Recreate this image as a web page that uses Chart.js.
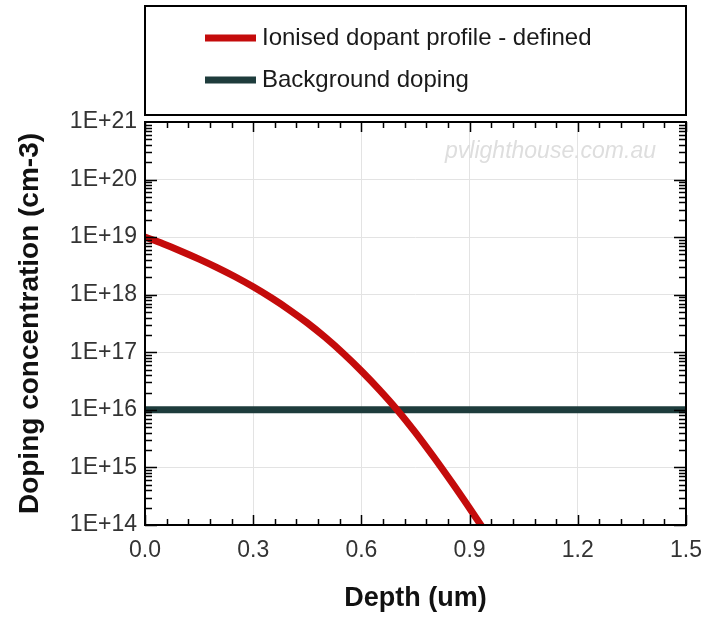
<!DOCTYPE html>
<html>
<head>
<meta charset="utf-8">
<script src="https://cdn.jsdelivr.net/npm/chart.js@4"></script>
<style>
  body { margin: 0; background: #fff; }
</style>
</head>
<body>
<canvas id="myChart" width="720" height="625"></canvas>
<script>
// ====== Doping profile vs depth =========

const depth = [0, 0.05, 0.1, 0.15, 0.2, 0.25, 0.3, 0.35, 0.4, 0.45, 0.5, 0.55, 0.6, 0.65, 0.7, 0.75, 0.8, 0.85, 0.9, 0.95];
const dopant = [1.0e19, 7.67e18, 5.71e18, 4.16e18, 2.96e18, 2.05e18, 1.37e18, 8.83e17, 5.47e17, 3.24e17, 1.81e17, 9.53e16, 4.74e16, 2.23e16, 9.89e15, 4.03e15, 1.53e15, 5.56e14, 1.95e14, 6.68e13];
const bgDepth = [0, 1.5];
const bgDoping = [1e16, 1e16];
const xTicks = [0, 0.3, 0.6, 0.9, 1.2, 1.5];
const yExponents = [14, 15, 16, 17, 18, 19, 20, 21];
const seriesNames = ["Ionised dopant profile - defined", "Background doping"];

const FONT = "'Liberation Sans', Arial, sans-serif";

// inward tick marks + black frame round the plot
const frameTicks = {
  id: "frameTicks",
  afterDatasetsDraw(chart) {
    const ctx = chart.ctx;
    const a = chart.chartArea;
    const x = chart.scales.x;
    const y = chart.scales.y;
    ctx.save();
    ctx.strokeStyle = "#000";
    ctx.lineWidth = 1.5;
    ctx.beginPath();
    for (let i = 0; i <= 25; i++) {
      const px = Math.round(x.getPixelForValue(i * 0.06)) + 0.5;
      const len = i % 5 == 0 ? 10 : 6;
      ctx.moveTo(px, a.bottom);
      ctx.lineTo(px, a.bottom - len);
      ctx.moveTo(px, a.top);
      ctx.lineTo(px, a.top + len);
    }
    for (let e = 14; e <= 20; e++) {
      for (let m = 1; m <= 9; m++) {
        const py = Math.round(y.getPixelForValue(m * Math.pow(10, e))) + 0.5;
        const len = m == 1 ? 12 : 7;
        ctx.moveTo(a.left, py);
        ctx.lineTo(a.left + len, py);
        ctx.moveTo(a.right, py);
        ctx.lineTo(a.right - len, py);
      }
    }
    ctx.stroke();
    ctx.lineWidth = 2;
    ctx.strokeRect(a.left, a.top, a.right - a.left, a.bottom - a.top);

    // watermark
    ctx.font = "italic 23px " + FONT;
    ctx.fillStyle = "#dedede";
    ctx.textAlign = "right";
    ctx.textBaseline = "middle";
    ctx.fillText("pvlighthouse.com.au", a.right - 30, a.top + 30);
    ctx.restore();
  },
};

// legend in its own box above the plot
const boxLegend = {
  id: "boxLegend",
  afterDraw(chart) {
    const ctx = chart.ctx;
    const a = chart.chartArea;
    ctx.save();
    ctx.strokeStyle = "#000";
    ctx.lineWidth = 2;
    ctx.strokeRect(a.left, 6, a.right - a.left, 109);
    ctx.font = "24px " + FONT;
    ctx.textBaseline = "middle";
    ctx.textAlign = "left";
    chart.data.datasets.forEach((ds, i) => {
      const ly = 38 + i * 42;
      ctx.strokeStyle = ds.borderColor;
      ctx.lineWidth = 7;
      ctx.beginPath();
      ctx.moveTo(205, ly);
      ctx.lineTo(256, ly);
      ctx.stroke();
      ctx.fillStyle = "#1a1a1a";
      ctx.fillText(ds.label, 262, ly);
    });
    ctx.restore();
  },
};

let ctx = document.getElementById("myChart").getContext("2d");

var graphie = new Chart(ctx, {
  type: "line",
  data: {
    datasets: [
      {
        label: seriesNames[0],
        data: depth.map((d, i) => ({ x: d, y: dopant[i] })),
        borderColor: "#c40b0b",
        borderWidth: 7,
        pointRadius: 0,
        cubicInterpolationMode: "monotone",
      },
      {
        label: seriesNames[1],
        data: bgDepth.map((d, i) => ({ x: d, y: bgDoping[i] })),
        borderColor: "#1e3c3c",
        borderWidth: 7,
        pointRadius: 0,
      },
    ],
  },
  options: {
    responsive: false,
    animation: false,
    devicePixelRatio: 1,
    layout: { padding: { top: 122, right: 34 } },
    plugins: {
      legend: { display: false },
      tooltip: { enabled: false },
    },
    scales: {
      x: {
        type: "linear",
        min: 0,
        max: 1.5,
        afterBuildTicks: (scale) => {
          scale.ticks = xTicks.map((v) => ({ value: v }));
        },
        afterFit: (scale) => {
          scale.height = 100;
        },
        ticks: {
          padding: 12,
          color: "#333",
          font: { family: FONT, size: 23 },
          callback: (v) => Number(v).toFixed(1),
        },
        grid: { color: "#e3e3e3", lineWidth: 1, drawTicks: false },
        border: { display: false },
        title: {
          display: true,
          text: "Depth (um)",
          color: "#111",
          font: { family: FONT, size: 27, weight: "bold" },
          padding: { top: 0, bottom: 10 },
        },
      },
      y: {
        type: "logarithmic",
        min: 1e14,
        max: 1e21,
        afterBuildTicks: (scale) => {
          scale.ticks = yExponents.map((e) => ({ value: Math.pow(10, e) }));
        },
        afterFit: (scale) => {
          scale.width = 145;
        },
        ticks: {
          padding: 8,
          color: "#333",
          font: { family: FONT, size: 23 },
          callback: (v) => "1E+" + Math.round(Math.log10(v)),
        },
        grid: { color: "#e3e3e3", lineWidth: 1, drawTicks: false },
        border: { display: false },
        title: {
          display: true,
          text: "Doping concentration (cm-3)",
          color: "#111",
          font: { family: FONT, size: 28, weight: "bold" },
          padding: { top: 13, bottom: 0 },
        },
      },
    },
  },
  plugins: [frameTicks, boxLegend],
});
</script>
</body>
</html>
